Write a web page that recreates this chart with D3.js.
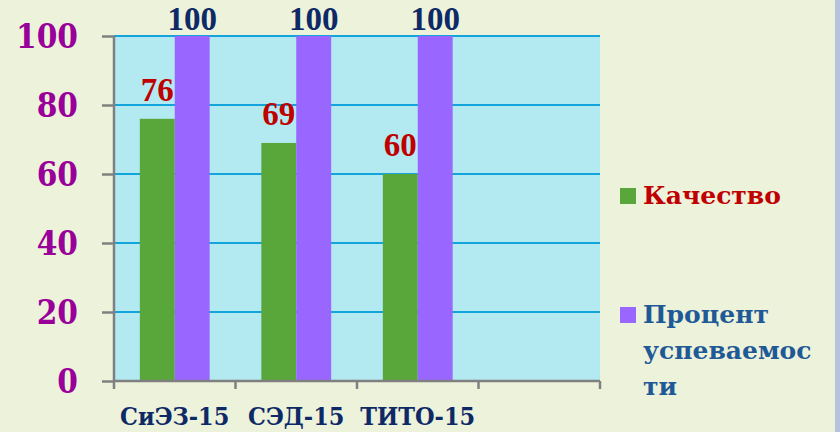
<html>
<head>
<meta charset="utf-8">
<script src="https://d3js.org/d3.v7.min.js"></script>
<style>
  body { margin:0; background:#EDF2DB; }
</style>
</head>
<body>
<svg id="MAINSVG" width="840" height="432"></svg>
<script>
// data
var categories = ["СиЭЗ-15", "СЭД-15", "ТИТО-15", ""];
var seriesNames = ["Качество", "Процент успеваемости"];
var legendLines = [["Качество"], ["Процент", "успеваемос", "ти"]];
var quality = [76, 69, 60];
var progress = [100, 100, 100];
var yTicks = [0, 20, 40, 60, 80, 100];

var seriesColors = ["#59A63A", "#9966FF"];
var labelColors = ["#C00000", "#0D2A66"];
var legendColors = ["#C00000", "#1F5A96"];

var SVG = d3.select("#MAINSVG");

SVG.append("rect").attr("x",0).attr("y",0).attr("width",840).attr("height",432).attr("fill","#EDF2DB");
SVG.append("rect").attr("x",835).attr("y",0).attr("width",5).attr("height",432).attr("fill","#B4C4E0");

var plotLeft = 114, plotRight = 600, plotTop = 36, plotBottom = 381;

var x0 = d3.scaleBand().domain(categories).range([plotLeft, plotRight]).padding(0);
var x1 = d3.scaleBand().domain(seriesNames).range([0, x0.bandwidth()]).paddingInner(0).paddingOuter(0.74);
var y = d3.scaleLinear().domain([0, 100]).range([plotBottom, plotTop]);

// plot background
SVG.append("rect")
   .attr("x",plotLeft).attr("y",plotTop)
   .attr("width",plotRight-plotLeft).attr("height",plotBottom-plotTop)
   .attr("fill","#B3EAF2");

// gridlines
SVG.selectAll(".grid").data(yTicks.filter(function(d){return d>0;})).enter()
   .append("line")
   .attr("class","grid")
   .attr("x1",plotLeft).attr("x2",plotRight)
   .attr("y1",function(d){return y(d);})
   .attr("y2",function(d){return y(d);})
   .attr("stroke","#12A4DB")
   .attr("stroke-width",2);

// bars
var values = [quality, progress];
seriesNames.forEach(function(s, si){
  var vals = values[si];
  SVG.selectAll(".bar"+si).data(vals).enter()
     .append("rect")
     .attr("class","bar"+si)
     .attr("x",function(d,i){return x0(categories[i]) + x1(s);})
     .attr("y",function(d){return y(d);})
     .attr("width",x1.bandwidth())
     .attr("height",function(d){return y(0)-y(d);})
     .attr("fill",seriesColors[si]);
  SVG.selectAll(".lab"+si).data(vals).enter()
     .append("text")
     .attr("class","lab"+si)
     .attr("x",function(d,i){return x0(categories[i]) + x1(s) + x1.bandwidth()/2;})
     .attr("y",function(d){return y(d) - (si==0 ? 18 : 6);})
     .attr("text-anchor","middle")
     .style("font-family","'Liberation Serif', serif")
     .style("font-weight","bold")
     .style("font-size","33px")
     .attr("fill",labelColors[si])
     .text(function(d){return d;});
});

// y axis
var yAxis = SVG.append("g").attr("transform","translate("+plotLeft+",0)")
   .call(d3.axisLeft(y).tickValues(yTicks).tickSize(12).tickSizeOuter(0).tickFormat(""));
yAxis.selectAll("line, path").attr("stroke","#808080").attr("stroke-width",2.5);
yAxis.select(".domain").attr("d","M0,"+plotBottom+"V"+plotTop);

SVG.selectAll(".ylab").data(yTicks).enter()
   .append("text")
   .attr("class","ylab")
   .attr("x",78)
   .attr("y",function(d){return y(d)+12;})
   .attr("text-anchor","end")
   .style("font-family","'DejaVu Serif Condensed', 'DejaVu Serif', serif")
   .style("font-stretch","condensed")
   .style("font-weight","bold")
   .style("font-size","33px")
   .attr("fill","#990099")
   .text(function(d){return d;});

// x axis
var xAxis = SVG.append("g").attr("transform","translate(0,"+plotBottom+")");
xAxis.append("line").attr("x1",plotLeft).attr("x2",plotRight).attr("y1",0).attr("y2",0)
   .attr("stroke","#808080").attr("stroke-width",2.5);
var bounds = categories.map(function(c){return x0(c);}).concat([plotRight]);
xAxis.selectAll(".xt").data(bounds).enter()
   .append("line")
   .attr("x1",function(d){return d;}).attr("x2",function(d){return d;})
   .attr("y1",0).attr("y2",8)
   .attr("stroke","#808080").attr("stroke-width",2.5);

SVG.selectAll(".xlab").data(categories).enter()
   .append("text")
   .attr("class","xlab")
   .attr("x",function(d){return x0(d)+x0.bandwidth()/2;})
   .attr("y",425)
   .attr("text-anchor","middle")
   .style("font-family","'DejaVu Serif Condensed', 'DejaVu Serif', serif")
   .style("font-stretch","condensed")
   .style("font-weight","bold")
   .style("font-size","25px")
   .attr("fill","#0D2A66")
   .text(function(d){return d;});

// legend
var legendY = [188, 307];
seriesNames.forEach(function(s, si){
  SVG.append("rect")
     .attr("x",620).attr("y",legendY[si])
     .attr("width",16).attr("height",16)
     .attr("fill",seriesColors[si]);
  var t = SVG.append("text")
     .attr("x",643).attr("y",legendY[si]+16)
     .style("font-family","'DejaVu Serif', serif")
     .style("font-weight","bold")
     .style("font-size","25px")
     .attr("fill",legendColors[si]);
  legendLines[si].forEach(function(line, li){
    t.append("tspan").attr("x",643).attr("dy", li==0 ? 0 : 36).text(line);
  });
});
</script>
</body>
</html>
